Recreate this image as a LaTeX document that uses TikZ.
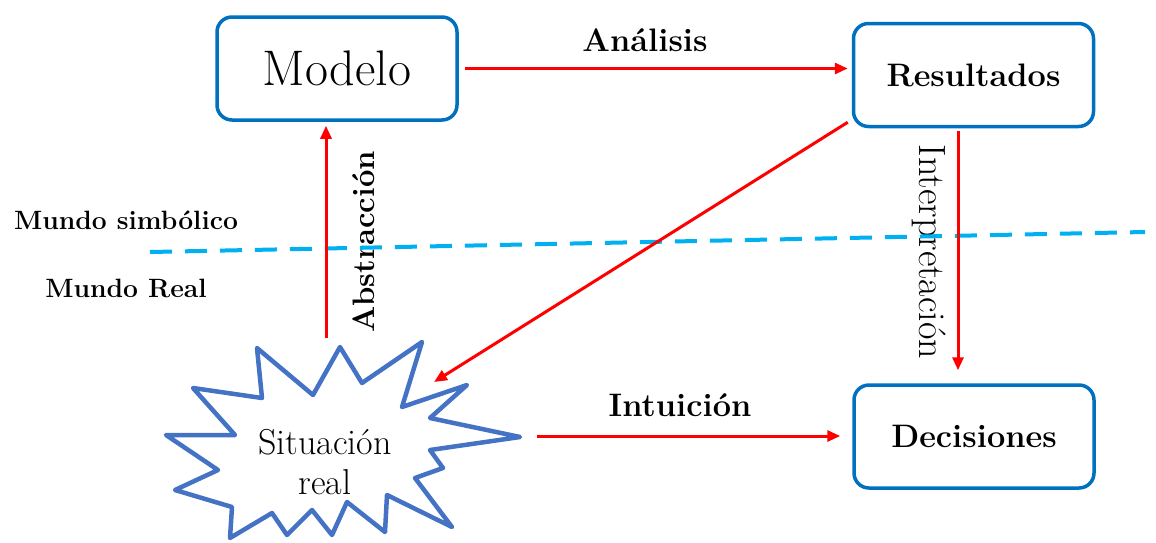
\documentclass[tikz,border=0pt]{standalone}
\usetikzlibrary{arrows.meta}
\definecolor{boxblue}{RGB}{0,112,192}
\definecolor{starblue}{RGB}{68,114,196}
\definecolor{lineblue}{RGB}{0,176,240}

\begin{document}
\begin{tikzpicture}[x=1pt, y=-1pt,
        caja/.style={draw=boxblue, line width=3.5pt, rounded corners=15pt, minimum width=240pt, minimum height=103pt, fill=white},
        flecha/.style={line width=3pt, red, -{Triangle[length=13pt,width=11pt]}},
        etiqueta/.style={font=\fontsize{32.5}{38}\selectfont\bfseries},
        mundo/.style={font=\fontsize{26.5}{32}\selectfont\bfseries}]
            \useasboundingbox (0,0) rectangle (1156,542);

            \node[caja] (Modelo) at (337,68.5) {\fontsize{50}{56}\selectfont Modelo};
            \node[caja, etiqueta] (Resultados) at (973.5,75) {Resultados};
            \node[caja, etiqueta] (Decisiones) at (974,436.5) {Decisiones};

            % situacion real
            \draw[line width=4.5pt, starblue, fill=white, line join=round]
                (257,348) -- (313,395) -- (340,347) -- (362,383) -- (422,342) -- (402,407)
                -- (467,385) -- (430,418) -- (520,437) -- (430,450) -- (443,468) -- (415,478)
                -- (452,527) -- (387,495) -- (385,532) -- (347,502) -- (332,535) -- (312,510)
                -- (287,535) -- (272,513) -- (230,538) -- (232,507) -- (175,490) -- (218,470)
                -- (166,435) -- (235,435) -- (193,388) -- (262,398) -- cycle;
            \node[align=center, font=\fontsize{36}{40}\selectfont] (Situacion) at (325,462) {Situación\\real};

            \node[etiqueta] (Analisis) at (645,40) {Análisis};
            \node[etiqueta] (Intuicion) at (680,405) {Intuición};
            \node[etiqueta, font=\fontsize{31}{36}\selectfont\bfseries, rotate=90] (Abstraccion) at (364,242) {Abstracción};
            \node[font=\fontsize{38}{44}\selectfont, rotate=-90] (Interpretacion) at (929,252) {Interpretación};
            \node[mundo] (MSimbolico) at (126,220) {Mundo simbólico};
            \node[mundo] (MReal) at (126,288) {Mundo Real};

            \coordinate (divIzq) at (150,252);
            \coordinate (divDer) at (1145,232);
            \draw[line width=4pt, lineblue, dash pattern=on 22pt off 13pt] (divIzq) -- (divDer);

            \coordinate (absInicio) at (326,338);
            \coordinate (intInicio) at (537,436);
            \coordinate (diagFin) at (434,382);

            \draw[flecha, shorten >=4pt] (absInicio) -- (absInicio |- Modelo.south);
            \draw[flecha, shorten <=6pt, shorten >=4pt] (Modelo.east) -- (Modelo.east -| Resultados.west);
            \draw[flecha] ([xshift=-4pt, yshift=6pt]Resultados.south west) -- (diagFin);
            \draw[flecha, shorten <=3pt, shorten >=13pt] ([xshift=-15.5pt]Resultados.south) -- ([xshift=-15.5pt]Resultados.south |- Decisiones.north);
            \draw[flecha, shorten >=12pt] (intInicio) -- (intInicio -| Decisiones.west);
        \end{tikzpicture}
\end{document}
